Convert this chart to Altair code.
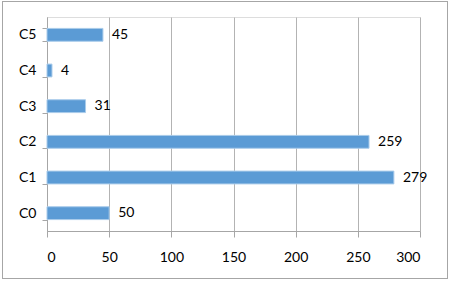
import altair as alt
import pandas as pd

categories = ["C0", "C1", "C2", "C3", "C4", "C5"]
values = [50, 279, 259, 31, 4, 45]

df = pd.DataFrame({"cat": categories, "val": values})

FONT = "Lato"
W, H = 373, 214

y_enc = alt.Y("cat:N", sort=categories[::-1],
              scale=alt.Scale(paddingInner=0.64, paddingOuter=0.32),
              axis=alt.Axis(title=None, tickBand="extent", tickSize=5, tickColor="#a6a6a6",
                            domainColor="#a6a6a6", labelFont=FONT, labelFontSize=14,
                            labelColor="#000000", labelPadding=6, grid=False))
x_enc = alt.X("val:Q", scale=alt.Scale(domain=[0, 300], nice=False),
              axis=alt.Axis(title=None, values=[0, 50, 100, 150, 200, 250, 300],
                            tickSize=6, tickColor="#a6a6a6", domainColor="#a6a6a6",
                            gridColor="#b3b3b3", labelFont=FONT, labelFontSize=14,
                            labelColor="#000000", labelPadding=13))

bars = alt.Chart(df).mark_bar(fill="#5B9BD5", stroke="#A9CBEA", strokeWidth=1).encode(
    x=x_enc, y=y_enc)

labels = alt.Chart(df).mark_text(align="left", baseline="middle", dx=9, font=FONT,
                                 fontSize=14, color="#000000").encode(
    x="val:Q", y=alt.Y("cat:N", sort=categories[::-1]), text="val:Q")

border = alt.Chart(df).mark_rect(fill=None, stroke="#a6a6a6", strokeWidth=1, clip=False).encode(
    x=alt.value(-44.5), x2=alt.value(W + 27.5), y=alt.value(-15.5), y2=alt.value(H + 47.5))

chart = alt.layer(bars, labels, border).properties(
    width=W, height=H,
    autosize=alt.AutoSizeParams(type="none"),
    padding={"left": 47, "top": 17, "right": 30, "bottom": 51},
).configure_view(stroke=None).configure(background="white")

chart.save("out.html", embed_options={"renderer": "svg", "actions": False})
